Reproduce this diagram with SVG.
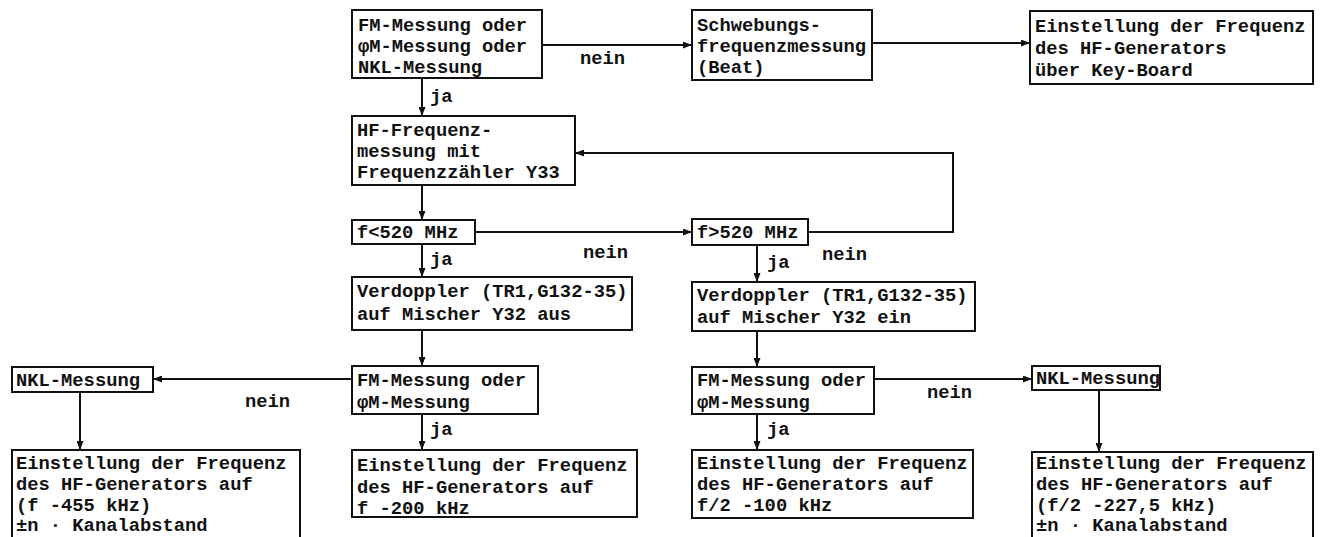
<svg xmlns="http://www.w3.org/2000/svg" width="1320" height="537" viewBox="0 0 1320 537">
<defs>
<marker id="ah" markerWidth="9" markerHeight="7" refX="9" refY="3.5" orient="auto" markerUnits="userSpaceOnUse"><path d="M0,0 L9,3.5 L0,7 z" fill="#111"/></marker>
<style>
.b{fill:#fff;stroke:#111;stroke-width:2}
.t{font-family:"Liberation Mono","Courier New",monospace;font-weight:bold;font-size:18.8px;fill:#111}
.c{fill:none;stroke:#111;stroke-width:2;marker-end:url(#ah)}
.l{fill:none;stroke:#111;stroke-width:2}
</style>
</defs>
<rect width="1320" height="537" fill="#fff"/>
<g id="connectors">
<path class="c" d="M542,45 H692"/>
<path class="c" d="M872,43 H1030"/>
<path class="c" d="M422,78 V116"/>
<path class="c" d="M422,185 V220"/>
<path class="c" d="M475,232 H692"/>
<path class="c" d="M808,232 H953 V153 H575"/>
<path class="c" d="M422,244 V277"/>
<path class="c" d="M757,245 V282"/>
<path class="c" d="M422,330 V366"/>
<path class="c" d="M757,331 V367"/>
<path class="c" d="M352,379 H153"/>
<path class="c" d="M874,379 H1032"/>
<path class="c" d="M80,392 V450"/>
<path class="c" d="M422,414 V450"/>
<path class="c" d="M757,414 V450"/>
<path class="c" d="M1099,390 V452"/>
<text class="t" x="580" y="64">nein</text>
<text class="t" x="430" y="102">ja</text>
<text class="t" x="583" y="258">nein</text>
<text class="t" x="822" y="260">nein</text>
<text class="t" x="430" y="265">ja</text>
<text class="t" x="767" y="268">ja</text>
<text class="t" x="245" y="407">nein</text>
<text class="t" x="927" y="398">nein</text>
<text class="t" x="430" y="435">ja</text>
<text class="t" x="767" y="435">ja</text>
</g>
<g id="n1"><rect class="b" x="352" y="10" width="190" height="68"/>
<text class="t" x="358" y="31">FM-Messung oder</text><text class="t" x="358" y="52">φM-Messung oder</text><text class="t" x="358" y="73">NKL-Messung</text></g>
<g id="n2"><rect class="b" x="692" y="10" width="180" height="70"/>
<text class="t" x="697" y="31">Schwebungs-</text><text class="t" x="697" y="52">frequenzmessung</text><text class="t" x="697" y="73">(Beat)</text></g>
<g id="n3"><rect class="b" x="1030" y="11" width="283" height="73"/>
<text class="t" x="1035" y="32">Einstellung der Frequenz</text><text class="t" x="1035" y="54">des HF-Generators</text><text class="t" x="1035" y="76">über Key-Board</text></g>
<g id="n4"><rect class="b" x="352" y="116" width="223" height="69"/>
<text class="t" x="357" y="136">HF-Frequenz-</text><text class="t" x="357" y="157">messung mit</text><text class="t" x="357" y="178">Frequenzzähler Y33</text></g>
<g id="n5"><rect class="b" x="352" y="220" width="123" height="24"/>
<text class="t" x="357" y="238">f&lt;520 MHz</text></g>
<g id="n6"><rect class="b" x="692" y="219" width="116" height="26"/>
<text class="t" x="697" y="238">f&gt;520 MHz</text></g>
<g id="n7"><rect class="b" x="352" y="277" width="280" height="53"/>
<text class="t" x="357" y="297">Verdoppler (TR1,G132-35)</text><text class="t" x="357" y="320">auf Mischer Y32 aus</text></g>
<g id="n8"><rect class="b" x="692" y="282" width="283" height="49"/>
<text class="t" x="697" y="301">Verdoppler (TR1,G132-35)</text><text class="t" x="697" y="323">auf Mischer Y32 ein</text></g>
<g id="n9"><rect class="b" x="352" y="366" width="186" height="48"/>
<text class="t" x="357" y="386">FM-Messung oder</text><text class="t" x="357" y="408">φM-Messung</text></g>
<g id="n10"><rect class="b" x="692" y="367" width="182" height="47"/>
<text class="t" x="697" y="386">FM-Messung oder</text><text class="t" x="697" y="408">φM-Messung</text></g>
<g id="n11"><rect class="b" x="12" y="367" width="141" height="25"/>
<text class="t" x="16" y="386">NKL-Messung</text></g>
<g id="n12"><rect class="b" x="1032" y="366" width="128" height="24"/>
<text class="t" x="1036" y="384">NKL-Messung</text></g>
<g id="n13"><rect class="b" x="12" y="450" width="288" height="95"/>
<text class="t" x="16" y="469">Einstellung der Frequenz</text><text class="t" x="16" y="490">des HF-Generators auf</text><text class="t" x="16" y="511">(f -455 kHz)</text><text class="t" x="16" y="531">±n · Kanalabstand</text></g>
<g id="n14"><rect class="b" x="352" y="450" width="285" height="67"/>
<text class="t" x="357" y="471">Einstellung der Frequenz</text><text class="t" x="357" y="493">des HF-Generators auf</text><text class="t" x="357" y="514">f -200 kHz</text></g>
<g id="n15"><rect class="b" x="692" y="450" width="281" height="68"/>
<text class="t" x="697" y="469">Einstellung der Frequenz</text><text class="t" x="697" y="490">des HF-Generators auf</text><text class="t" x="697" y="511">f/2 -100 kHz</text></g>
<g id="n16"><rect class="b" x="1032" y="452" width="281" height="93"/>
<text class="t" x="1036" y="469">Einstellung der Frequenz</text><text class="t" x="1036" y="490">des HF-Generators auf</text><text class="t" x="1036" y="511">(f/2 -227,5 kHz)</text><text class="t" x="1036" y="531">±n · Kanalabstand</text></g>
</svg>
